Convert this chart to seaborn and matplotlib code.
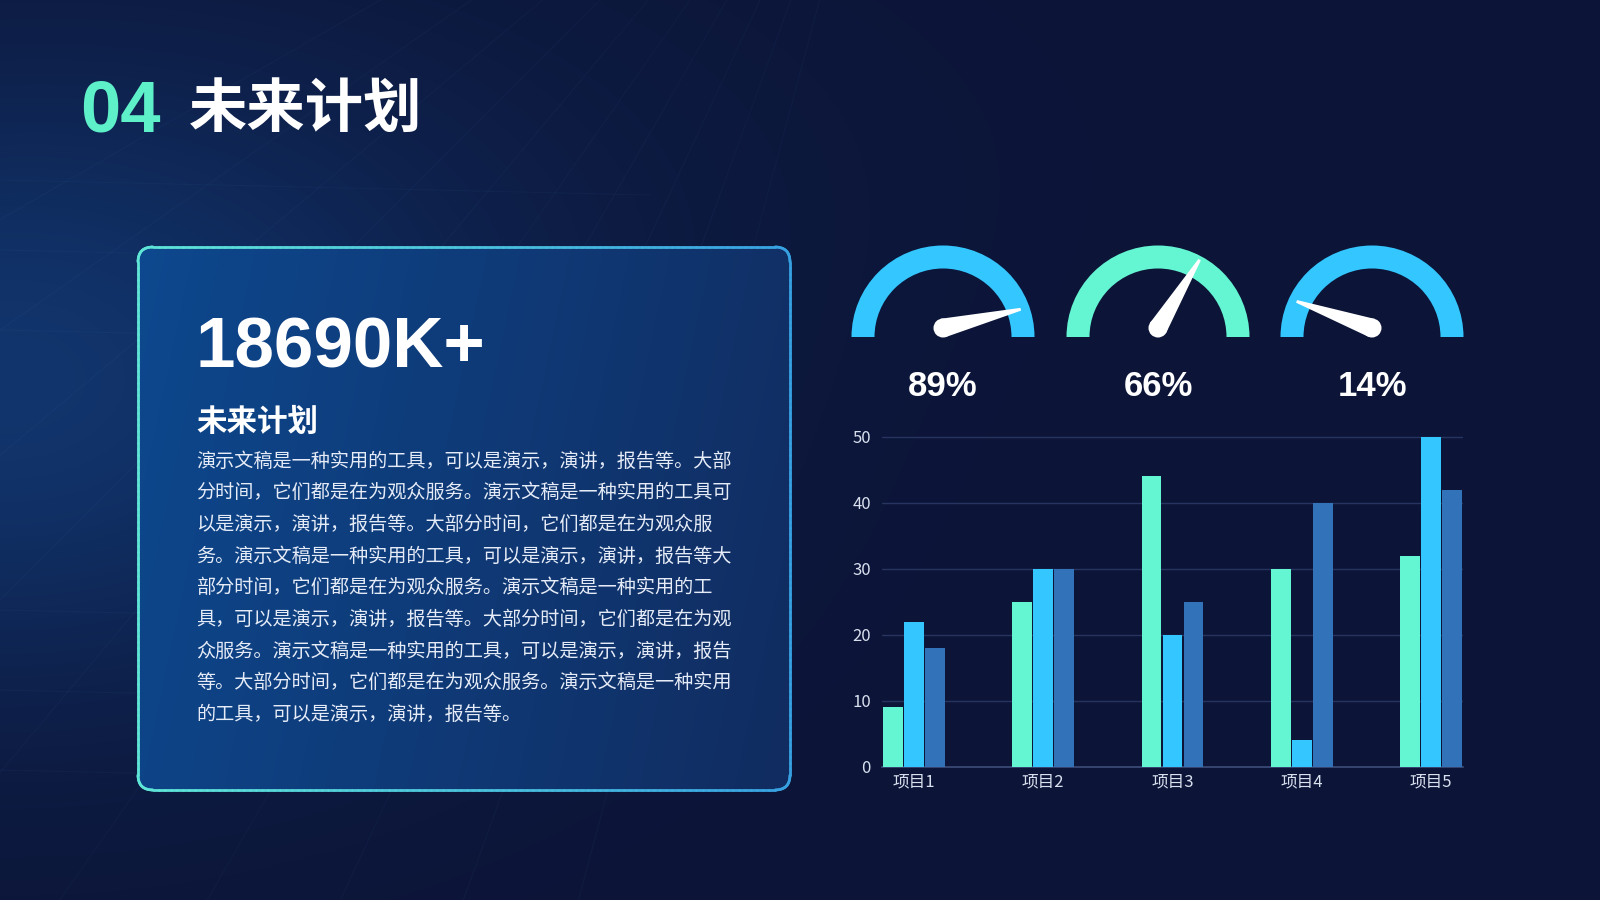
import numpy as np
import pandas as pd
import matplotlib
matplotlib.use("Agg")
import matplotlib.pyplot as plt
import seaborn as sns
from matplotlib.patches import Wedge, Circle, Polygon, FancyBboxPatch
from matplotlib.collections import LineCollection

# ---------------- data ----------------
categories = ["项目1", "项目2", "项目3", "项目4", "项目5"]
series_names = ["系列1", "系列2", "系列3"]
series1 = [9, 25, 44, 30, 32]
series2 = [22, 30, 20, 4, 50]
series3 = [18, 30, 25, 40, 42]
y_ticks = [0, 10, 20, 30, 40, 50]

gauge_values = [0.89, 0.66, 0.14]
gauge_labels = ["89%", "66%", "14%"]

title_num = "04"
title_text = "未来计划"
big_number = "18690K+"
sub_title = "未来计划"
body_lines = [
    "演示文稿是一种实用的工具，可以是演示，演讲，报告等。大部",
    "分时间，它们都是在为观众服务。演示文稿是一种实用的工具可",
    "以是演示，演讲，报告等。大部分时间，它们都是在为观众服",
    "务。演示文稿是一种实用的工具，可以是演示，演讲，报告等大",
    "部分时间，它们都是在为观众服务。演示文稿是一种实用的工",
    "具，可以是演示，演讲，报告等。大部分时间，它们都是在为观",
    "众服务。演示文稿是一种实用的工具，可以是演示，演讲，报告",
    "等。大部分时间，它们都是在为观众服务。演示文稿是一种实用",
    "的工具，可以是演示，演讲，报告等。",
]

# ---------------- style ----------------
MINT = "#64F5D2"
SKY = "#33C6FF"
STEEL = "#3172B9"
BG = np.array([12, 21, 56]) / 255.0

sns.set_theme(style="dark")
plt.rcParams["font.family"] = ["Noto Sans CJK SC", "DejaVu Sans"]

W, H = 1600, 900
fig = plt.figure(figsize=(16, 9), dpi=100)

# background pixel axes (y down)
bg = fig.add_axes([0, 0, 1, 1])
bg.set_xlim(0, W)
bg.set_ylim(H, 0)
bg.axis("off")

yy, xx = np.mgrid[0:H, 0:W]
glow = np.exp(-(((xx - 0) / 480.0) ** 2 + ((yy - 400) / 300.0) ** 2))
glow2 = np.exp(-(((xx - 200) / 600.0) ** 2 + ((yy - 150) / 220.0) ** 2)) * 0.15
img = np.zeros((H, W, 3))
for c, add in enumerate([0.02, 0.12, 0.20]):
    img[..., c] = BG[c] + add * glow + add * glow2
img = np.clip(img, 0, 1)
bg.imshow(img, extent=[0, W, H, 0], origin="upper", aspect="auto", zorder=0)

# faint streaks
seg = []
ox, oy = 900, -300
for ang in np.linspace(105, 150, 10):
    a = np.deg2rad(ang)
    seg.append([(ox, oy), (ox + 2000 * np.cos(a), oy + 2000 * np.sin(a))])
for yv in [180, 250, 330, 610, 690, 770]:
    seg.append([(0, yv), (650, yv + 15)])
bg.add_collection(LineCollection(seg, colors="#6fc0ff", linewidths=0.8, alpha=0.035, zorder=1))

# title
bg.text(80, 131, title_num, color="#5EF0C8", fontsize=52, fontweight="bold",
        family=["Liberation Sans", "DejaVu Sans"], va="baseline", ha="left", zorder=5)
bg.text(189, 127, title_text, color="white", fontsize=42, fontweight="bold",
        va="baseline", ha="left", zorder=5)

# card
cx0, cy0, cw, ch = 138, 247, 652, 543
card = FancyBboxPatch((cx0, cy0), cw, ch, boxstyle="round,pad=0,rounding_size=15",
                      facecolor="none", edgecolor="none", zorder=2)
bg.add_patch(card)
gx = np.linspace(0, 1, 300)
gy = np.linspace(0, 1, 200)
GX, GY = np.meshgrid(gx, gy)
left_c = np.array([13, 72, 142]) / 255.0
right_c = np.array([17, 44, 96]) / 255.0
t = np.clip(GX * 0.85 + GY * 0.15, 0, 1)[..., None]
cimg = left_c * (1 - t) + right_c * t
im = bg.imshow(cimg, extent=[cx0, cx0 + cw, cy0 + ch, cy0], origin="upper",
               aspect="auto", zorder=2)
im.set_clip_path(card)
# gradient border
path = card.get_path()
verts = np.vstack(path.to_polygons()[0])
dense = []
for i in range(len(verts) - 1):
    p0, p1 = verts[i], verts[i + 1]
    n = max(2, int(np.hypot(*(p1 - p0)) / 6))
    for s in np.linspace(0, 1, n, endpoint=False):
        dense.append(p0 + (p1 - p0) * s)
dense.append(verts[-1])
dense = np.array(dense)
segs = np.stack([dense[:-1], dense[1:]], axis=1)
mx = (segs[:, 0, 0] + segs[:, 1, 0]) / 2
tt = (mx - cx0) / cw
c_a = np.array([95, 230, 215]) / 255.0
c_b = np.array([55, 160, 225]) / 255.0
cols = [tuple(c_a * (1 - v) + c_b * v) for v in tt]
bg.add_collection(LineCollection(segs, colors=cols, linewidths=2, capstyle="round",
                                 joinstyle="round", antialiaseds=True, zorder=3))

# card texts
bg.text(196, 367, big_number, color="white", fontsize=51, fontweight="bold",
        family=["Liberation Sans", "DejaVu Sans"], va="baseline", ha="left", zorder=5)
bg.text(196, 422, sub_title, color="white", fontsize=22, fontweight="bold",
        va="center", ha="left", zorder=5)
for i, line in enumerate(body_lines):
    bg.text(196, 461 + i * 31.7, line, color="#E6ECF7", fontsize=13.8,
            va="center", ha="left", zorder=5)

# gauges
g_centers = [943, 1158, 1372]
g_base_y = 337
R_out, R_w = 91.5, 23
gauge_colors = [SKY, MINT, SKY]
for gxc, val, lab, col in zip(g_centers, gauge_values, gauge_labels, gauge_colors):
    bg.add_patch(Wedge((gxc, g_base_y), R_out, 180, 360, width=R_w, facecolor=col,
                       edgecolor="none", zorder=4))
    ang = np.deg2rad(188 - val * 196)
    px, py = gxc, g_base_y - 9
    L = 80
    tx, ty = px + L * np.cos(ang), py - L * np.sin(ang)
    nx, ny = -np.sin(ang), -np.cos(ang)
    rb, rt = 9.5, 1.4
    poly = [(px + nx * rb, py + ny * rb), (tx + nx * rt, ty + ny * rt),
            (tx - nx * rt, ty - ny * rt), (px - nx * rb, py - ny * rb)]
    bg.add_patch(Polygon(poly, closed=True, facecolor="white", edgecolor="none", zorder=6))
    bg.add_patch(Circle((px, py), rb, facecolor="white", edgecolor="none", zorder=6))
    bg.text(gxc, 386, lab, color="white", fontsize=25, fontweight="bold",
            family=["Liberation Sans", "DejaVu Sans"], ha="center", va="center", zorder=6)

# bar chart
bottom_px, top_px = 766.7, 436.7 - 3.3
ax = fig.add_axes([882 / W, 1 - bottom_px / H, (1463 - 882) / W, (bottom_px - top_px) / H])
ax.set_facecolor("none")
df = pd.DataFrame({
    "项目": categories * 3,
    "值": series1 + series2 + series3,
    "系列": [series_names[0]] * 5 + [series_names[1]] * 5 + [series_names[2]] * 5,
})
sns.barplot(data=df, x="项目", y="值", hue="系列", palette=[MINT, SKY, STEEL],
            width=0.487, gap=0.07, saturation=1, legend=False, ax=ax, zorder=3,
            edgecolor="none", linewidth=0)
ax.set_xlim(-0.2474, 4.2474)
ax.set_ylim(0, 50.5)
ax.set_yticks(y_ticks)
ax.set_xlabel("")
ax.set_ylabel("")
ax.grid(False)
for yv in y_ticks[1:]:
    ax.axhline(yv, color="#26345F", lw=1, zorder=1)
for s in ["top", "right", "left"]:
    ax.spines[s].set_visible(False)
ax.spines["bottom"].set_visible(True)
ax.spines["bottom"].set_color("#3E4E7A")
ax.spines["bottom"].set_linewidth(1.2)
ax.tick_params(axis="y", length=0, pad=8, labelsize=12, labelcolor="#D8E0EE")
ax.tick_params(axis="x", length=0, pad=5, labelsize=12, labelcolor="#D8E0EE")

fig.savefig("out.png", dpi=100, facecolor=BG)
